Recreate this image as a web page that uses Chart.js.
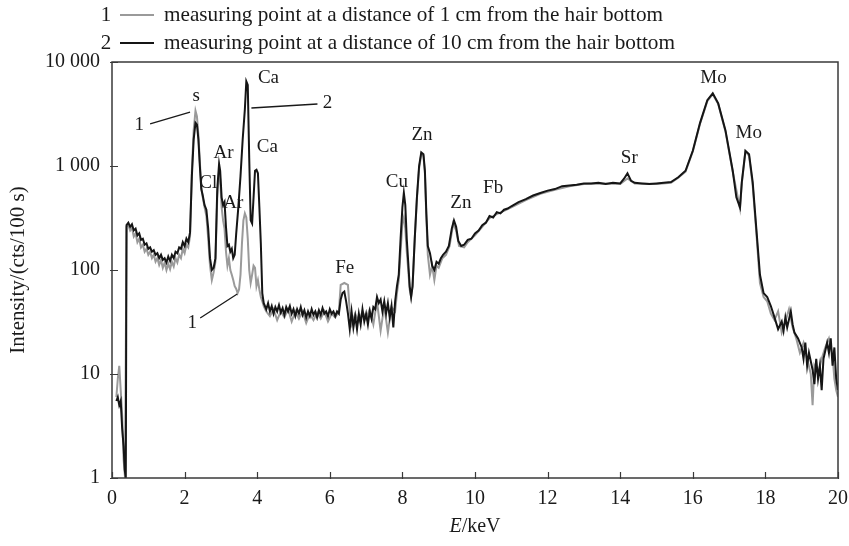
<!DOCTYPE html>
<html>
<head>
<meta charset="utf-8">
<script src="https://cdn.jsdelivr.net/npm/chart.js@4.4.1/dist/chart.umd.min.js"></script>
<style>
  html, body { margin: 0; padding: 0; background: #fff; }
  #c { display: block; }
</style>
</head>
<body>
<canvas id="c" width="849" height="546"></canvas>
<script>
// series 1: measuring point 1 cm from hair bottom (grey)
const energy1 = [0.12,0.16,0.2,0.24,0.28,0.32,0.36,0.38,0.4,0.45,0.5,0.55,0.6,0.65,0.7,0.75,0.8,0.85,0.9,0.95,1.0,1.05,1.1,1.15,1.2,1.25,1.3,1.35,1.4,1.45,1.5,1.55,1.6,1.65,1.7,1.75,1.8,1.85,1.9,1.95,2.0,2.05,2.1,2.15,2.2,2.25,2.3,2.34,2.38,2.42,2.46,2.5,2.55,2.6,2.65,2.7,2.75,2.8,2.85,2.9,2.95,2.98,3.02,3.06,3.1,3.14,3.18,3.22,3.26,3.3,3.34,3.38,3.42,3.46,3.5,3.54,3.58,3.62,3.66,3.7,3.74,3.78,3.82,3.86,3.9,3.94,3.98,4.02,4.06,4.1,4.14,4.18,4.25,4.35,4.45,4.55,4.65,4.75,4.85,4.95,5.05,5.15,5.25,5.35,5.45,5.55,5.65,5.75,5.85,5.95,6.05,6.15,6.25,6.3,6.4,6.5,6.55,6.6,6.7,6.8,6.9,7.0,7.1,7.2,7.3,7.4,7.5,7.6,7.7,7.8,7.85,7.9,7.95,8.0,8.04,8.08,8.12,8.16,8.2,8.24,8.28,8.34,8.4,8.46,8.52,8.58,8.62,8.66,8.7,8.76,8.82,8.88,8.94,9.0,9.1,9.2,9.3,9.4,9.48,9.56,9.7,9.8,10.0,10.2,10.4,10.6,10.8,11.0,11.4,11.8,12.2,12.6,13.0,13.4,13.8,14.0,14.2,14.4,15.0,15.4,15.6,15.8,16.0,16.2,16.4,16.55,16.7,16.9,17.1,17.3,17.35,17.45,17.55,17.65,17.75,17.85,17.95,18.05,18.15,18.25,18.35,18.45,18.55,18.65,18.75,18.85,18.95,19.05,19.15,19.25,19.3,19.35,19.45,19.55,19.65,19.75,19.85,19.9,19.95,20.0];
const counts1 = [6,9,12,7,4,1.5,1,1,260,270,240,255,210,225,185,200,165,175,150,160,140,150,130,140,120,130,112,125,105,118,100,115,102,120,108,130,118,140,130,160,145,175,165,210,900,2200,3400,3000,2000,1100,620,500,400,330,200,110,80,95,120,500,900,750,400,300,250,150,110,130,100,90,80,70,66,60,65,90,180,300,350,320,200,100,75,90,110,105,70,80,65,55,50,45,40,36,42,33,40,35,42,32,40,34,40,31,38,33,39,34,40,32,38,35,40,72,75,72,40,30,38,32,40,34,42,30,50,26,45,25,44,40,60,80,150,280,320,250,150,100,65,55,70,200,480,950,1300,1250,850,320,140,90,110,80,110,105,130,140,170,280,240,170,165,185,215,260,315,345,370,400,470,540,590,640,670,680,675,670,760,680,670,690,770,880,1380,2550,4200,4900,3950,2150,880,390,680,1380,1250,650,230,75,55,50,38,33,40,25,32,42,28,22,16,20,14,10,5,12,10,14,18,22,15,9,7,6];

// series 2: measuring point 10 cm from hair bottom (black)
const energy2 = [0.12,0.16,0.2,0.24,0.28,0.32,0.35,0.38,0.4,0.45,0.5,0.55,0.6,0.65,0.7,0.75,0.8,0.85,0.9,0.95,1.0,1.05,1.1,1.15,1.2,1.25,1.3,1.35,1.4,1.45,1.5,1.55,1.6,1.65,1.7,1.75,1.8,1.85,1.9,1.95,2.0,2.05,2.1,2.15,2.2,2.25,2.3,2.34,2.38,2.42,2.46,2.5,2.55,2.6,2.65,2.7,2.75,2.8,2.85,2.9,2.95,2.98,3.02,3.06,3.1,3.14,3.18,3.22,3.26,3.3,3.34,3.38,3.42,3.48,3.54,3.6,3.66,3.7,3.74,3.78,3.82,3.86,3.9,3.94,3.98,4.02,4.06,4.1,4.14,4.18,4.25,4.3,4.35,4.4,4.45,4.5,4.55,4.6,4.65,4.7,4.75,4.8,4.85,4.9,4.95,5.0,5.05,5.1,5.15,5.2,5.25,5.3,5.35,5.4,5.45,5.5,5.55,5.6,5.65,5.7,5.75,5.8,5.85,5.9,5.95,6.0,6.05,6.1,6.15,6.2,6.25,6.3,6.35,6.4,6.45,6.5,6.55,6.6,6.65,6.7,6.75,6.8,6.85,6.9,6.95,7.0,7.05,7.1,7.15,7.2,7.25,7.3,7.35,7.4,7.45,7.5,7.55,7.6,7.65,7.7,7.75,7.8,7.85,7.9,7.95,8.0,8.04,8.08,8.12,8.16,8.2,8.24,8.28,8.34,8.4,8.46,8.52,8.58,8.62,8.66,8.7,8.76,8.82,8.88,8.94,9.0,9.06,9.12,9.2,9.28,9.36,9.42,9.48,9.54,9.62,9.7,9.8,9.9,10.0,10.1,10.2,10.3,10.4,10.5,10.6,10.7,10.8,10.9,11.0,11.2,11.4,11.6,11.8,12.0,12.2,12.4,12.6,12.8,13.0,13.2,13.4,13.6,13.8,14.0,14.1,14.2,14.3,14.4,14.6,14.8,15.0,15.2,15.4,15.6,15.8,16.0,16.2,16.4,16.55,16.7,16.9,17.1,17.2,17.3,17.35,17.45,17.55,17.65,17.75,17.85,17.95,18.05,18.15,18.25,18.35,18.45,18.5,18.55,18.6,18.7,18.75,18.8,18.9,19.0,19.05,19.1,19.15,19.2,19.3,19.35,19.4,19.45,19.5,19.55,19.6,19.7,19.75,19.8,19.85,19.9,19.95,20.0];
const counts2 = [5.5,6,5,5.5,3,2,1.2,1,270,285,260,275,240,250,215,225,195,200,175,180,160,165,150,155,140,145,130,140,125,130,118,135,122,140,130,150,145,165,160,185,170,200,185,230,800,1800,2600,2500,1800,1000,600,520,420,380,250,130,100,105,130,600,1050,900,500,420,450,260,170,175,150,160,130,140,220,400,800,1800,3500,6500,6000,1200,300,280,500,900,920,850,400,180,60,48,42,48,40,45,38,44,40,46,39,43,37,44,40,45,38,42,36,42,38,44,37,41,35,40,36,42,37,40,35,41,37,43,38,40,36,42,38,40,36,40,38,52,60,62,50,38,27,40,28,36,27,38,30,42,32,38,30,40,34,44,42,55,48,52,40,50,38,48,35,45,28,50,70,90,200,400,550,420,200,120,70,55,70,200,500,1000,1350,1300,900,350,170,145,110,100,120,115,130,140,150,170,250,300,260,190,170,175,195,200,225,240,270,285,330,320,360,350,380,390,410,450,480,520,550,580,600,640,650,660,680,680,690,670,690,680,750,850,720,690,680,670,680,690,700,780,900,1400,2600,4300,5000,4000,2200,900,500,400,700,1400,1300,700,250,90,60,55,45,35,27,32,26,35,28,40,30,25,22,18,14,20,12,16,11,8,14,9,12,7,14,20,16,22,12,18,9,7];

// axis ticks
const xTicks = [0, 2, 4, 6, 8, 10, 12, 14, 16, 18, 20];
const yTicks = [1, 10, 100, 1000, 10000];

// legend text
const legendItems = [
  { num: "1", color: "#9a9a9a", text: "measuring point at a distance of 1 cm from the hair bottom" },
  { num: "2", color: "#151515", text: "measuring point at a distance of 10 cm from the hair bottom" },
];

// peak labels (energy in keV, intensity)
const peakLabels = [
  ["s", 2.32, 4710], ["1", 0.75, 2480], ["Ar", 3.07, 1334], ["Cl", 2.65, 687],
  ["Ar", 3.34, 441], ["Ca", 4.31, 7020], ["Ca", 4.28, 1523], ["2", 5.94, 4035],
  ["1", 2.21, 31], ["Fe", 6.41, 105], ["Cu", 7.85, 702], ["Zn", 8.54, 1986],
  ["Zn", 9.61, 441], ["Fb", 10.5, 614], ["Sr", 14.25, 1194], ["Mo", 16.57, 7020],
  ["Mo", 17.54, 2076],
];
// leader lines for the curve numbers
const leaderLines = [
  [1.05, 2535, 2.15, 3305],
  [3.84, 3610, 5.66, 3945],
  [2.43, 34.5, 3.45, 58.8],
];

const SERIF = "'Liberation Serif', 'DejaVu Serif', serif";

function toPoints(xs, ys) {
  return xs.map((x, i) => ({ x: x, y: ys[i] }));
}

function fmtTick(v) {
  return String(v).replace(/\B(?=(\d{3})+(?!\d))/g, " ");
}

// 畫外框、刻度、標籤、圖例和軸標題
const decorations = {
  id: "decorations",
  afterDraw(chart) {
    const ctx = chart.ctx;
    const area = chart.chartArea;
    const xs = chart.scales.x;
    const ys = chart.scales.y;
    ctx.save();

    // frame
    ctx.strokeStyle = "#3a3a3a";
    ctx.lineWidth = 1.5;
    ctx.strokeRect(area.left, area.top, area.right - area.left, area.bottom - area.top);

    // ticks, mostly inward
    ctx.lineWidth = 1.2;
    ctx.beginPath();
    xTicks.forEach((t) => {
      const px = Math.round(xs.getPixelForValue(t)) + 0.5;
      ctx.moveTo(px, area.bottom + 1);
      ctx.lineTo(px, area.bottom - 6);
    });
    yTicks.forEach((t) => {
      const py = Math.round(ys.getPixelForValue(t)) + 0.5;
      ctx.moveTo(area.left - 2, py);
      ctx.lineTo(area.left + 6, py);
    });
    ctx.stroke();

    // peak labels
    ctx.fillStyle = "#1a1a1a";
    ctx.font = "19px " + SERIF;
    ctx.textAlign = "center";
    ctx.textBaseline = "middle";
    peakLabels.forEach(([t, e, v]) => {
      ctx.fillText(t, xs.getPixelForValue(e), ys.getPixelForValue(v));
    });
    ctx.strokeStyle = "#1a1a1a";
    ctx.lineWidth = 1.3;
    ctx.beginPath();
    leaderLines.forEach(([e1, v1, e2, v2]) => {
      ctx.moveTo(xs.getPixelForValue(e1), ys.getPixelForValue(v1));
      ctx.lineTo(xs.getPixelForValue(e2), ys.getPixelForValue(v2));
    });
    ctx.stroke();

    // legend
    const rowsY = [15, 43];
    const textEnds = [663, 675];
    legendItems.forEach((item, i) => {
      const y = rowsY[i];
      ctx.font = "21px " + SERIF;
      ctx.textAlign = "center";
      ctx.fillStyle = "#1a1a1a";
      ctx.fillText(item.num, 106, y);
      ctx.strokeStyle = item.color;
      ctx.lineWidth = 2.2;
      ctx.beginPath();
      ctx.moveTo(120, y);
      ctx.lineTo(154, y);
      ctx.stroke();
      const w = ctx.measureText(item.text).width;
      ctx.save();
      ctx.translate(164, y);
      ctx.scale((textEnds[i] - 164) / w, 1);
      ctx.textAlign = "left";
      ctx.fillText(item.text, 0, 0);
      ctx.restore();
    });

    // axis titles
    ctx.textAlign = "left";
    ctx.fillStyle = "#1a1a1a";
    const xMid = (area.left + area.right) / 2;
    ctx.font = "italic 20px " + SERIF;
    const wE = ctx.measureText("E").width;
    ctx.font = "20px " + SERIF;
    const wRest = ctx.measureText("/keV").width;
    const x0 = xMid - (wE + wRest) / 2;
    ctx.font = "italic 20px " + SERIF;
    ctx.fillText("E", x0, 527);
    ctx.font = "20px " + SERIF;
    ctx.fillText("/keV", x0 + wE, 527);

    ctx.save();
    ctx.translate(18, (area.top + area.bottom) / 2);
    ctx.rotate(-Math.PI / 2);
    ctx.textAlign = "center";
    ctx.font = "21px " + SERIF;
    ctx.fillText("Intensity/(cts/100 s)", 0, 0);
    ctx.restore();

    ctx.restore();
  },
};

const ctx = document.getElementById("c").getContext("2d");
new Chart(ctx, {
  type: "line",
  data: {
    datasets: [
      {
        label: "2",
        data: toPoints(energy2, counts2),
        borderColor: "#151515",
        borderWidth: 2,
        pointRadius: 0,
        tension: 0,
        order: 1,
      },
      {
        label: "1",
        data: toPoints(energy1, counts1),
        borderColor: "#9a9a9a",
        borderWidth: 2,
        pointRadius: 0,
        tension: 0,
        order: 2,
      },
    ],
  },
  options: {
    responsive: false,
    animation: false,
    devicePixelRatio: 1,
    layout: { padding: { left: 0, top: 62, right: 7, bottom: 0 } },
    plugins: { legend: { display: false }, tooltip: { enabled: false } },
    scales: {
      x: {
        type: "linear",
        min: 0,
        max: 20,
        afterBuildTicks: (scale) => { scale.ticks = xTicks.map((v) => ({ value: v })); },
        afterFit: (scale) => { scale.height = 68; },
        ticks: { color: "#1a1a1a", font: { family: SERIF, size: 20 }, padding: 1, maxRotation: 0 },
        grid: { display: false },
        border: { display: false },
      },
      y: {
        type: "logarithmic",
        min: 1,
        max: 10000,
        afterBuildTicks: (scale) => { scale.ticks = yTicks.map((v) => ({ value: v })); },
        afterFit: (scale) => { scale.width = 112; },
        ticks: {
          color: "#1a1a1a",
          font: { family: SERIF, size: 20 },
          padding: 4,
          callback: (v) => fmtTick(v),
        },
        grid: { display: false },
        border: { display: false },
      },
    },
  },
  plugins: [decorations],
});
</script>
</body>
</html>
